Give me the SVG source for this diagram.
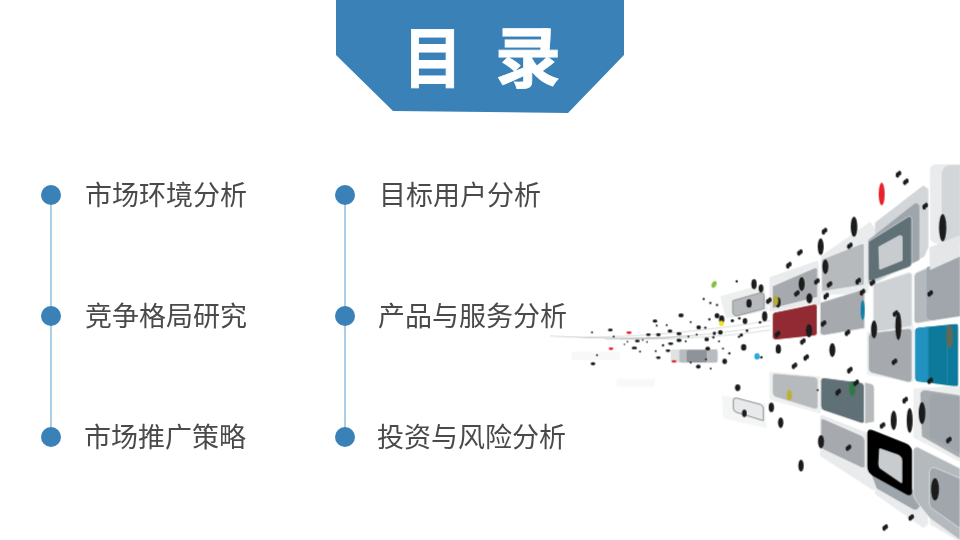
<svg xmlns="http://www.w3.org/2000/svg" width="960" height="540" viewBox="0 0 960 540">
<style>
.lbl{font-family:"Noto Sans CJK SC","Liberation Sans",sans-serif;font-size:27px;fill:#4a4a4a}
.ttl{font-family:"Noto Sans CJK SC","Liberation Sans",sans-serif;font-size:66px;font-weight:700;fill:#fff;stroke:#fff;stroke-width:.8}
.dot{fill:#3a81b8}
.con{stroke:#7fb5dd;stroke-width:1.3;fill:none}
.pale{fill:#e9ebec;stroke:#e9ebec;stroke-width:10;stroke-linejoin:round}
.mid{fill:#d3d6d8;stroke:#d3d6d8;stroke-width:10;stroke-linejoin:round}
.t1{fill:#a6aaaf;stroke:#eef0f0;stroke-width:3;stroke-linejoin:round}
.t2{fill:#b6babd;stroke:#eef0f0;stroke-width:3;stroke-linejoin:round}
.t3{fill:#5f6f76;stroke:#f4f5f5;stroke-width:3;stroke-linejoin:round}
.t4{fill:#cfd2d4;stroke:#eef0f0;stroke-width:3;stroke-linejoin:round}
.win{fill:#c9cccf;stroke:#c9cccf;stroke-width:6;stroke-linejoin:round}
.b{fill:#1c1c1c}
.st{stroke:#c4c8ca;stroke-width:2;fill:none}
</style>
<defs>
<filter id="soft" x="-5%" y="-5%" width="110%" height="110%"><feGaussianBlur stdDeviation="1.2"/></filter>
<g id="s"><ellipse cx="-2.5" cy="2.5" rx="5.5" ry="8" class="b"/><ellipse cx="3.5" cy="-2.5" rx="5.5" ry="7.5" class="b"/></g>
</defs>
<g id="artwork" transform="translate(540 160) scale(.33333)" filter="url(#soft)">
<rect x="95" y="575" width="145" height="25" fill="#f8f8f8"/>
<rect x="230" y="657" width="115" height="23" fill="#f8f8f8"/>
<path class="st" d="M30 528C200 540 450 520 690 482M195 537C350 540 520 525 690 497M240 537C400 540 560 530 690 510"/>
<path d="M30 528C200 536 350 536 500 522C350 542 200 538 30 528Z" fill="#b5b9bc"/>
<!-- far tiles -->
<rect x="392" y="568" width="142" height="40" rx="5" fill="#e0e2e3"/>
<rect x="418" y="568" width="114" height="40" rx="6" fill="#b8bcc0"/>
<rect x="440" y="570" width="60" height="37" rx="5" fill="#8e9399"/>
<path class="pale" d="M546 412L668 378L678 448L562 470Z" opacity=".8"/>
<path d="M578 422L662 398Q672 398 672 406V446L590 468Q580 468 578 458Z" fill="#b6babd" stroke="#83888c" stroke-width="2.5"/>
<path d="M545 705L675 730L680 805L550 775Z" fill="#f4f5f5"/>
<path d="M580 722Q580 712 590 714L660 733Q670 736 670 745V782L590 757Q580 754 580 745Z" fill="#e8e9eb" stroke="#74797d" stroke-width="2.5"/>
<!-- top band -->
<path class="pale" d="M1175 30Q1175 18 1190 18H1260V245H1185Q1175 240 1175 230Z"/>
<path d="M1205 40Q1210 15 1230 15H1260V245H1205Z" fill="#d3d6d8"/>
<path class="pale" d="M693 355L830 308L838 430L693 450Z"/>
<path class="pale" d="M848 290L990 192L1000 210L980 395L848 400Z"/>
<path class="mid" d="M1010 190L1150 82L1160 90V260L1150 285L1010 360Z"/>
<path d="M985 240L1125 130Q1138 128 1138 142V300L985 370Z" fill="#9ea6ab"/>
<path d="M985 245L1105 170Q1115 166 1115 180V310Q1115 318 1105 322L995 362Q985 365 985 355Z" fill="#5f6f76" stroke="#e5e8e9" stroke-width="2"/>
<path class="win" d="M1018 262L1080 228Q1085 228 1085 235V300L1020 326Z"/>
<path class="t2" d="M845 298L962 252Q973 248 973 260V375L845 395Z"/>
<path class="t1" d="M697 378L822 324Q833 320 833 332V412L697 446Z"/>
<path class="pale" d="M985 520L1117 500V660L985 640Z" opacity=".7"/>
<path class="t4" d="M1000 372L1105 338Q1116 336 1116 347V498L1000 518Z"/>
<path class="t1" d="M840 428L962 390Q974 386 974 398V505L852 526Q840 526 840 516Z"/>
<path d="M697 465Q697 458 705 456L822 432Q832 430 832 440V518Q832 528 822 528L707 540Q697 540 697 530Z" fill="#912c30" stroke="#fff" stroke-width="3"/>
<path d="M1122 350Q1122 340 1132 336L1250 285H1260V468L1132 490Q1122 490 1122 480Z" fill="#b4b9bd" stroke="#eef0f0" stroke-width="3"/>
<path d="M1160 322L1260 285V468L1180 480Q1160 480 1160 465Z" fill="#a0a6ac"/>
<path d="M1168 262L1260 225V290L1170 330Z" fill="#e4e6e7"/>
<path class="t1" d="M985 530Q985 520 995 518L1105 505Q1116 505 1116 515V658Q1116 668 1105 667L998 640Q985 636 985 625Z"/>
<path d="M1124 512Q1124 504 1132 502L1248 490Q1256 490 1256 498V672Q1256 682 1246 681L1134 666Q1124 664 1124 654Z" fill="#0e7a9c" stroke="#fff" stroke-width="3.5"/>
<path d="M1126 512Q1126 506 1132 505L1165 500V668L1134 664Q1126 662 1126 654Z" fill="#2093c1"/>
<path d="M1222 496V670" stroke="#6f9fb0" stroke-width="2" opacity=".6"/>
<!-- lower band -->
<path class="pale" d="M693 640L838 655V755L693 715Z" opacity=".7"/>
<path class="t2" d="M697 650Q697 638 708 640L822 650Q834 652 834 662V738Q834 750 822 747L708 712Q697 708 697 698Z"/>
<path class="pale" d="M845 770L985 825L1000 985L845 885Z"/>
<path d="M975 668L995 672Q1002 675 1002 685V785L975 790Z" fill="#b6babd"/>
<path class="t3" d="M842 662Q842 652 852 653L962 667Q973 669 973 680V782Q973 792 962 789L852 752Q842 748 842 738Z"/>
<path class="t1" d="M842 785Q842 772 852 777L962 825Q975 831 975 843V915Q975 928 962 922L852 870Q842 865 842 855Z"/>
<path class="pale" d="M1010 950L1150 1000L1160 1090L1150 1098L1010 1000Z"/>
<path d="M990 930L1138 1000V1040Q1132 1052 1120 1048L1010 985Z" fill="#9ea6ab"/>
<path d="M982 820Q982 805 998 810L1098 850Q1116 858 1116 875V995Q1116 1010 1100 1004L1000 948Q982 938 982 920Z" fill="#050505"/>
<path class="win" d="M1020 868L1072 886Q1084 892 1084 902V966L1024 925Q1018 920 1018 912Z"/>
<path class="pale" d="M1125 690L1260 682V900L1125 830Z" opacity=".8"/>
<path d="M1140 700Q1145 688 1160 690L1260 705V895L1145 830Z" fill="#a6abb0" stroke="#eef0f0" stroke-width="2"/>
<path d="M1170 715Q1175 700 1190 702L1260 712V880L1170 830Z" fill="#9fa5aa"/>
<path class="pale" d="M1175 1090L1260 1140V1000H1175Z"/>
<path d="M1120 870Q1125 855 1140 865L1260 925V1140L1170 1075L1130 1025Q1120 1012 1120 1000Z" fill="#b4b9bd" stroke="#eef0f0" stroke-width="2"/>
<path d="M1168 935Q1172 918 1190 925L1260 955V1105L1175 1045Q1168 1040 1168 1030Z" fill="#a0a6ac" stroke="#eef0f0" stroke-width="2"/>
<!-- large blobs -->
<g class="b">
<ellipse cx="942" cy="200" rx="10" ry="30"/><ellipse cx="842" cy="260" rx="9" ry="25"/><ellipse cx="1208" cy="203" rx="11" ry="41"/>
<ellipse cx="856" cy="320" rx="9" ry="22"/><ellipse cx="785" cy="372" rx="9" ry="21"/><ellipse cx="808" cy="415" rx="9" ry="15"/><ellipse cx="714" cy="427" rx="8" ry="16"/>
<ellipse cx="1075" cy="498" rx="9" ry="42"/><ellipse cx="1002" cy="508" rx="9" ry="27"/><ellipse cx="807" cy="512" rx="9" ry="20"/><ellipse cx="715" cy="567" rx="8" ry="14"/><ellipse cx="877" cy="570" rx="9" ry="21"/>
<ellipse cx="593" cy="683" rx="8" ry="10"/><ellipse cx="694" cy="742" rx="8" ry="14"/><ellipse cx="722" cy="788" rx="8" ry="16"/><ellipse cx="613" cy="760" rx="7" ry="11"/>
<ellipse cx="843" cy="845" rx="9" ry="20"/><ellipse cx="783" cy="917" rx="8" ry="18"/><ellipse cx="1061" cy="781" rx="9" ry="29"/><ellipse cx="1109" cy="781" rx="9" ry="37"/><ellipse cx="1146" cy="759" rx="10" ry="33"/><ellipse cx="1185" cy="988" rx="12" ry="34"/>
<ellipse cx="642" cy="372" rx="8" ry="15"/><ellipse cx="663" cy="385" rx="7" ry="12"/><ellipse cx="627" cy="430" rx="8" ry="13"/><ellipse cx="674" cy="469" rx="8" ry="15"/><ellipse cx="615" cy="483" rx="7" ry="9"/><ellipse cx="545" cy="478" rx="8" ry="12"/><ellipse cx="531" cy="467" rx="7" ry="8"/>
<ellipse cx="423" cy="466" rx="8" ry="6"/><ellipse cx="345" cy="483" rx="7" ry="5"/><ellipse cx="476" cy="502" rx="7" ry="6"/><ellipse cx="390" cy="513" rx="7" ry="5"/><ellipse cx="417" cy="521" rx="8" ry="5"/><ellipse cx="355" cy="524" rx="7" ry="5"/><ellipse cx="325" cy="524" rx="7" ry="4"/><ellipse cx="211" cy="510" rx="7" ry="4"/><ellipse cx="292" cy="543" rx="7" ry="4"/><ellipse cx="417" cy="541" rx="8" ry="5"/><ellipse cx="392" cy="551" rx="8" ry="4"/><ellipse cx="500" cy="538" rx="7" ry="6"/><ellipse cx="541" cy="517" rx="7" ry="7"/><ellipse cx="283" cy="564" rx="8" ry="4"/><ellipse cx="384" cy="572" rx="7" ry="4"/><ellipse cx="355" cy="593" rx="7" ry="4"/><ellipse cx="159" cy="611" rx="7" ry="5"/><ellipse cx="475" cy="620" rx="7" ry="6"/><ellipse cx="554" cy="604" rx="7" ry="8"/><ellipse cx="503" cy="566" rx="7" ry="6"/><ellipse cx="611" cy="562" rx="8" ry="10"/>
</g>
<!-- coloured blobs -->
<ellipse cx="1025" cy="102" rx="9" ry="34" fill="#e8202a"/>
<ellipse cx="707" cy="422" rx="8" ry="15" fill="#b3ac3a"/>
<ellipse cx="968" cy="450" rx="6" ry="30" fill="#0e80a8"/>
<ellipse cx="1229" cy="530" rx="11" ry="36" fill="#5b6a5a"/>
<ellipse cx="937" cy="685" rx="9" ry="22" fill="#2d7a45"/>
<ellipse cx="748" cy="705" rx="8" ry="16" fill="#b9b336"/>
<ellipse cx="522" cy="373" rx="7" ry="11" fill="#8bc13f" transform="rotate(25 522 373)"/>
<ellipse cx="544" cy="490" rx="7" ry="8" fill="#f0e020"/>
<ellipse cx="267" cy="518" rx="8" ry="4" fill="#e8202a"/>
<ellipse cx="213" cy="566" rx="7" ry="4" fill="#e8202a"/>
<ellipse cx="402" cy="604" rx="7" ry="4" fill="#e8202a"/>
<ellipse cx="651" cy="589" rx="8" ry="10" fill="#29abe2"/>
<!-- small twin blobs -->
<use href="#s" x="1075" y="42"/><use href="#s" x="1097" y="65"/><use href="#s" x="1155" y="138"/><use href="#s" x="929" y="257"/><use href="#s" x="853" y="213"/><use href="#s" x="779" y="277"/><use href="#s" x="746" y="315"/><use href="#s" x="830" y="364"/><use href="#s" x="868" y="373"/><use href="#s" x="954" y="363"/><use href="#s" x="997" y="368"/><use href="#s" x="967" y="396"/><use href="#s" x="858" y="408"/><use href="#s" x="770" y="400"/><use href="#s" x="850" y="490"/><use href="#s" x="922" y="518"/><use href="#s" x="1170" y="400"/><use href="#s" x="1066" y="460"/><use href="#s" x="1063" y="605"/><use href="#s" x="1170" y="662"/><use href="#s" x="712" y="522"/><use href="#s" x="788" y="544"/><use href="#s" x="798" y="592"/><use href="#s" x="763" y="617"/><use href="#s" x="929" y="630"/><use href="#s" x="948" y="668"/><use href="#s" x="894" y="696"/><use href="#s" x="925" y="863"/><use href="#s" x="1027" y="796"/><use href="#s" x="1095" y="720"/><use href="#s" x="1226" y="840"/><use href="#s" x="1113" y="1072"/><use href="#s" x="1035" y="1102"/><use href="#s" x="686" y="422"/>
<!-- tiny specks -->
<g class="b">
<circle cx="590" cy="364" r="3.5"/><circle cx="491" cy="417" r="3.5"/><circle cx="511" cy="429" r="3.5"/><circle cx="531" cy="435" r="3.5"/><circle cx="452" cy="486" r="3"/><circle cx="508" cy="478" r="3.5"/><circle cx="496" cy="503" r="3.5"/><circle cx="577" cy="482" r="5"/><circle cx="598" cy="475" r="4"/><circle cx="660" cy="487" r="4"/><circle cx="380" cy="495" r="3"/><circle cx="350" cy="497" r="3"/><circle cx="156" cy="517" r="3"/><circle cx="221" cy="530" r="3"/><circle cx="253" cy="553" r="2.5"/><circle cx="308" cy="540" r="2.5"/><circle cx="262" cy="545" r="2.5"/><circle cx="321" cy="546" r="2.5"/><circle cx="300" cy="575" r="3"/><circle cx="347" cy="573" r="3"/><circle cx="369" cy="556" r="3.5"/><circle cx="437" cy="544" r="3"/><circle cx="445" cy="530" r="3"/><circle cx="470" cy="524" r="3"/><circle cx="523" cy="520" r="5"/><circle cx="520" cy="532" r="3.5"/><circle cx="537" cy="544" r="3"/><circle cx="549" cy="566" r="3"/><circle cx="568" cy="580" r="3.5"/><circle cx="498" cy="598" r="3"/><circle cx="452" cy="608" r="3"/><circle cx="512" cy="626" r="3"/><circle cx="171" cy="585" r="3"/><circle cx="604" cy="525" r="5"/><circle cx="597" cy="530" r="3.5"/><circle cx="621" cy="512" r="4"/><circle cx="664" cy="592" r="4"/><circle cx="833" cy="690" r="3"/>
</g>
</g>
<g id="banner"><path d="M336 0H624V55L568 113L393 111L336 55Z" fill="#3a81b8"/><text class="ttl" transform="translate(403 82) scale(.9 1)">目</text><text class="ttl" x="495" y="82">录</text></g>
<g id="connectors">
<path class="con" d="M51 195V437"/>
<path class="con" d="M345 195V437"/>
</g>
<g id="item1"><circle class="dot" cx="51" cy="195" r="10"/><text class="lbl" x="85" y="205">市场环境分析</text></g>
<g id="item2"><circle class="dot" cx="51" cy="316" r="10"/><text class="lbl" x="85" y="326">竞争格局研究</text></g>
<g id="item3"><circle class="dot" cx="51" cy="437" r="10"/><text class="lbl" x="84" y="447">市场推广策略</text></g>
<g id="item4"><circle class="dot" cx="345" cy="195" r="10"/><text class="lbl" x="379" y="205">目标用户分析</text></g>
<g id="item5"><circle class="dot" cx="345" cy="316" r="10"/><text class="lbl" x="378" y="326">产品与服务分析</text></g>
<g id="item6"><circle class="dot" cx="345" cy="437" r="10"/><text class="lbl" x="377" y="447">投资与风险分析</text></g>
</svg>
